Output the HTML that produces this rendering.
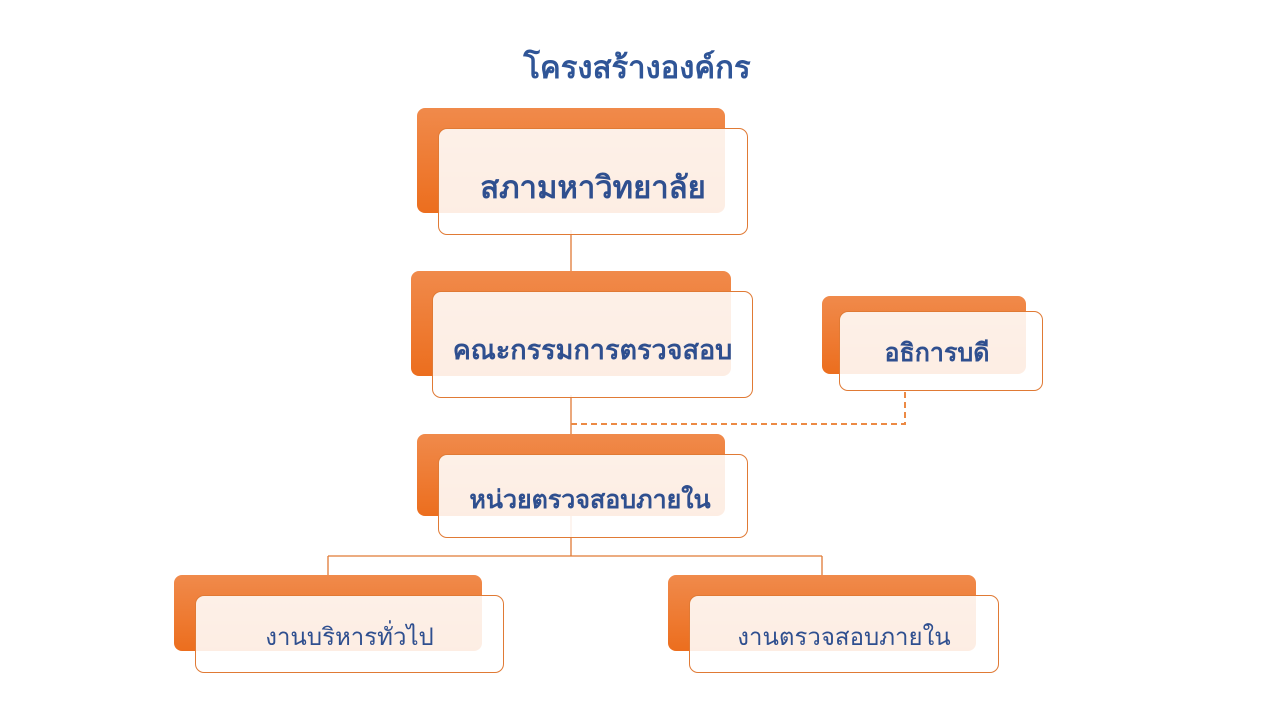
<!DOCTYPE html>
<html><head><meta charset="utf-8"><style>
body{margin:0;width:1280px;height:720px;background:#fff;position:relative;overflow:hidden;font-family:"Liberation Sans","DejaVu Sans",sans-serif;}
.b{position:absolute;border-radius:8px;background:linear-gradient(180deg,#f08a4b,#ec6e1e);}
.f{position:absolute;border-radius:9px;border:1px solid #e07a35;background:rgba(255,255,255,0.88);box-sizing:border-box;display:flex;align-items:center;justify-content:center;color:#2f4f8f;font-weight:bold;}
.t{position:absolute;left:0;width:1274px;top:42px;text-align:center;font-size:31px;font-weight:bold;color:#2f5597;}
</style></head><body>
<div class="t">โครงสร้างองค์กร</div>
<svg style="position:absolute;left:0;top:0" width="1280" height="720">
<g stroke="#e07a35" stroke-width="1.3" fill="none">
<line x1="571" y1="230" x2="571" y2="295"/>
<line x1="571" y1="395" x2="571" y2="556"/>
<line x1="328" y1="556" x2="822" y2="556"/>
<line x1="328" y1="556" x2="328" y2="578"/>
<line x1="822" y1="556" x2="822" y2="578"/>
<path d="M571 424 H905 V390" stroke-dasharray="6,4" stroke-width="2" stroke="#ec8a45"/>
</g></svg>
<div class="b" style="left:417px;top:108px;width:308px;height:105px"></div>
<div class="f" style="left:438px;top:128px;width:310px;height:107px;font-size:31px;padding-top:10px">สภามหาวิทยาลัย</div>
<div class="b" style="left:411px;top:271px;width:320px;height:105px"></div>
<div class="f" style="left:432px;top:291px;width:321px;height:107px;font-size:27px;padding-top:10px">คณะกรรมการตรวจสอบ</div>
<div class="b" style="left:822px;top:296px;width:204px;height:78px"></div>
<div class="f" style="left:839px;top:311px;width:204px;height:80px;font-size:25px;padding-top:4px;padding-right:8px">อธิการบดี</div>
<div class="b" style="left:417px;top:434px;width:308px;height:82px"></div>
<div class="f" style="left:438px;top:454px;width:310px;height:84px;font-size:25px;padding-top:8px;padding-right:6px">หน่วยตรวจสอบภายใน</div>
<div class="b" style="left:174px;top:575px;width:308px;height:76px"></div>
<div class="f" style="left:195px;top:595px;width:309px;height:78px;font-size:24px;font-weight:normal;padding-top:4px">งานบริหารทั่วไป</div>
<div class="b" style="left:668px;top:575px;width:308px;height:76px"></div>
<div class="f" style="left:689px;top:595px;width:310px;height:78px;font-size:24px;font-weight:normal;padding-top:4px">งานตรวจสอบภายใน</div>
</body></html>
